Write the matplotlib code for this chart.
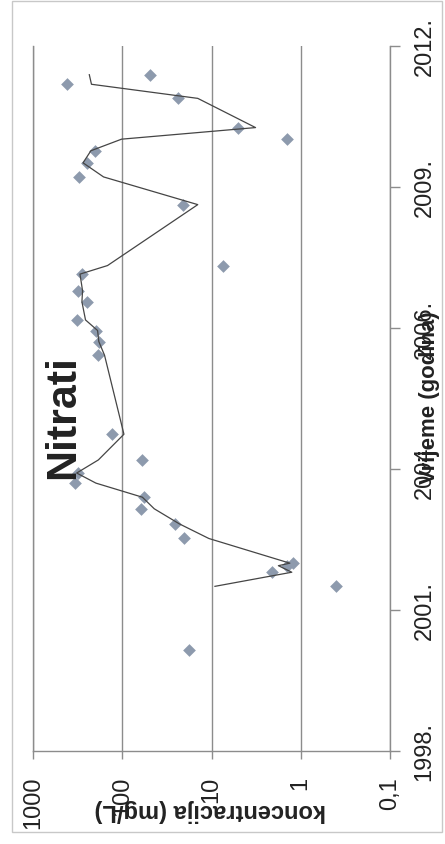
import numpy as np
import pandas as pd
import matplotlib
matplotlib.use('Agg')
import matplotlib.pyplot as plt
from matplotlib.patches import Rectangle
from matplotlib.ticker import FixedLocator, NullLocator

plt.rcParams['font.family'] = ['Liberation Sans', 'DejaVu Sans']

# measurement dates (decimal year) and nitrate concentration (mg/L)
years = [2000.00, 2001.27, 2001.55, 2001.68, 2001.73, 2002.22, 2002.51, 2002.81,
         2003.04, 2003.32, 2003.52, 2003.78, 2004.29, 2005.86, 2006.13, 2006.35,
         2006.56, 2006.92, 2007.14, 2007.47, 2007.64, 2008.85, 2009.40, 2009.68,
         2009.92, 2010.15, 2010.38, 2010.96, 2011.24, 2011.43]
conc = [17.9, 0.40, 2.12, 1.44, 1.21, 20.2, 25.6, 62, 57, 338, 310, 60.5, 131,
        185, 181, 197, 319, 247, 310, 285, 7.5, 21, 303, 247, 202, 1.42, 5.0,
        23.5, 419, 48.9]

conc_ticks = [1000, 100, 10, 1, 0.1]
conc_labels = ['1000', '100', '10', '1', '0,1']
year_ticks = [1998, 2000.8, 2003.6, 2006.4, 2009.2, 2012]
year_labels = ['1998.', '2001.', '2004.', '2006.', '2009.', '2012.']

# 2-period moving average trendline (as in the spreadsheet)
trend = pd.Series(conc).rolling(2).mean()

W, H = 445, 845
fig = plt.figure(figsize=(W / 100, H / 100), dpi=100)
ax = fig.add_axes([33 / W, 1 - 752 / H, (390 - 33) / W, (752 - 47) / H])

gray = '#8c8c8c'
ax.scatter(conc, years, marker='D', s=42, color='#8d9aad', linewidths=0, zorder=3)
ax.plot(trend, years, color='#454545', lw=0.9, zorder=4)

ax.set_xscale('log')
ax.set_xlim(1000, 0.1)
ax.set_ylim(1998, 2012)

ax.xaxis.set_major_locator(FixedLocator(conc_ticks))
ax.xaxis.set_minor_locator(NullLocator())
ax.set_xticklabels(conc_labels, rotation=90)
ax.yaxis.tick_right()
ax.yaxis.set_major_locator(FixedLocator(year_ticks))
ax.set_yticklabels(year_labels, rotation=90, va='center')

ax.tick_params(axis='x', direction='out', length=6, width=1.0, color=gray,
               labelsize=17, pad=12, labelcolor='#222222')
ax.tick_params(axis='y', direction='out', length=7, width=1.0, color=gray,
               labelsize=17, pad=10, labelcolor='#222222')

ax.grid(axis='x', color=gray, lw=1.0)
ax.spines['top'].set_visible(False)
for side in ['left', 'right', 'bottom']:
    ax.spines[side].set_color(gray)
    ax.spines[side].set_linewidth(1.0)

fig.text(210 / W, 1 - 811 / H, 'koncentracija (mg/L)', rotation=180,
         ha='center', va='center', fontsize=17, fontweight='bold', color='#222222')
fig.text(430 / W, 1 - 398 / H, 'Vrijeme (godina)', rotation=90,
         ha='center', va='center', fontsize=16, fontweight='bold', color='#222222')
fig.text(63 / W, 1 - 417 / H, 'Nitrati', rotation=90,
         ha='center', va='center', fontsize=31, fontweight='bold', color='#222222')

fig.patches.append(Rectangle((12 / W, 1 - 833 / H), (442 - 12) / W, (833 - 2) / H,
                             transform=fig.transFigure, fill=False,
                             edgecolor='#c8c8c8', lw=1.0))

fig.savefig('out.png', dpi=100)
